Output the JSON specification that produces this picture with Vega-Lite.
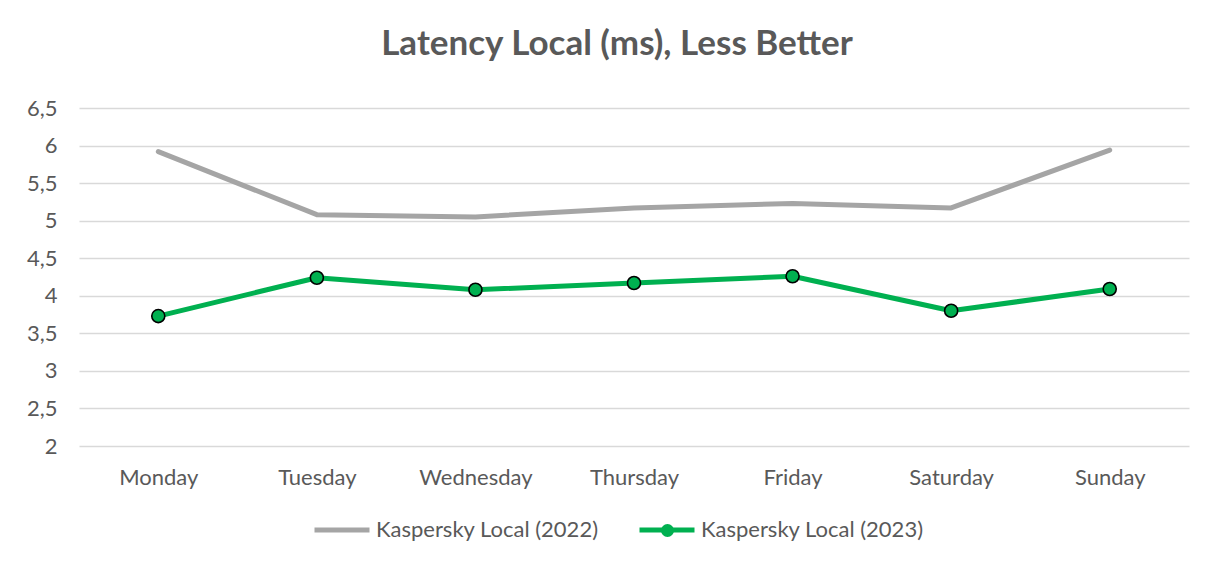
{
  "$schema": "https://vega.github.io/schema/vega-lite/v6.json",
  "width": 1110,
  "height": 338,
  "autosize": {"type": "none"},
  "padding": {"left": 79, "top": 108, "right": 25, "bottom": 116},
  "background": "white",
  "title": {
    "text": "Latency Local (ms), Less Better",
    "font": "Lato",
    "fontSize": 35,
    "fontWeight": "bold",
    "color": "#595959",
    "frame": "group",
    "anchor": "middle",
    "baseline": "alphabetic",
    "offset": 7,
    "dx": -17
  },
  "config": {
    "view": {"stroke": null},
    "font": "Lato"
  },
  "data": {
    "values": [
      {"day": "Monday", "series": "Kaspersky Local (2022)", "value": 5.92},
      {"day": "Tuesday", "series": "Kaspersky Local (2022)", "value": 5.08},
      {"day": "Wednesday", "series": "Kaspersky Local (2022)", "value": 5.05},
      {"day": "Thursday", "series": "Kaspersky Local (2022)", "value": 5.17},
      {"day": "Friday", "series": "Kaspersky Local (2022)", "value": 5.23},
      {"day": "Saturday", "series": "Kaspersky Local (2022)", "value": 5.17},
      {"day": "Sunday", "series": "Kaspersky Local (2022)", "value": 5.94},
      {"day": "Monday", "series": "Kaspersky Local (2023)", "value": 3.73},
      {"day": "Tuesday", "series": "Kaspersky Local (2023)", "value": 4.24},
      {"day": "Wednesday", "series": "Kaspersky Local (2023)", "value": 4.08},
      {"day": "Thursday", "series": "Kaspersky Local (2023)", "value": 4.17},
      {"day": "Friday", "series": "Kaspersky Local (2023)", "value": 4.26},
      {"day": "Saturday", "series": "Kaspersky Local (2023)", "value": 3.80},
      {"day": "Sunday", "series": "Kaspersky Local (2023)", "value": 4.09}
    ]
  },
  "encoding": {
    "x": {
      "field": "day",
      "type": "nominal",
      "sort": ["Monday", "Tuesday", "Wednesday", "Thursday", "Friday", "Saturday", "Sunday"],
      "scale": {"type": "point", "padding": 0.5},
      "axis": {
        "title": null,
        "domain": false,
        "ticks": false,
        "grid": false,
        "labelAngle": 0,
        "labelFont": "Lato",
        "labelFontSize": 22,
        "labelColor": "#595959",
        "labelPadding": 21
      }
    },
    "y": {
      "field": "value",
      "type": "quantitative",
      "scale": {"domain": [2, 6.5], "nice": false, "zero": false},
      "axis": {
        "title": null,
        "domain": false,
        "ticks": false,
        "values": [2, 2.5, 3, 3.5, 4, 4.5, 5, 5.5, 6, 6.5],
        "labelExpr": "replace(format(datum.value, '~g'), '.', ',')",
        "gridColor": "#d9d9d9",
        "gridWidth": 1.5,
        "labelFont": "Lato",
        "labelFontSize": 22,
        "labelColor": "#595959",
        "labelPadding": 22
      }
    }
  },
  "layer": [
    {
      "mark": {"type": "line", "strokeWidth": 5, "strokeCap": "round", "strokeJoin": "round"},
      "encoding": {
        "color": {
          "field": "series",
          "type": "nominal",
          "scale": {"domain": ["Kaspersky Local (2022)", "Kaspersky Local (2023)"], "range": ["#a5a5a5", "#00b050"]},
          "legend": {
            "title": null,
            "orient": "none",
            "direction": "horizontal",
            "legendX": 233,
            "legendY": 392,
            "padding": 0,
            "symbolType": "stroke",
            "symbolStrokeWidth": 5,
            "symbolSize": 3025,
            "labelFont": "Lato",
            "labelFontSize": 22,
            "labelColor": "#595959",
            "labelOffset": 4,
            "columnPadding": 30,
            "labelLimit": 400
          }
        }
      }
    },
    {
      "transform": [{"filter": "datum.series === 'Kaspersky Local (2023)'"}],
      "mark": {"type": "point", "shape": "circle", "filled": true, "fill": "#00b050", "stroke": "#000000", "strokeWidth": 1.6, "size": 170, "opacity": 1},
      "encoding": {
        "shape": {
          "field": "series",
          "type": "nominal",
          "scale": {"range": ["circle"]},
          "legend": {
            "title": null,
            "orient": "none",
            "legendX": 581,
            "legendY": 415,
            "padding": 0,
            "symbolSize": 170,
            "symbolFillColor": "#00b050",
            "symbolStrokeColor": "#000000",
            "symbolStrokeWidth": 1.6,
            "symbolOpacity": 1,
            "labelExpr": "''",
            "labelOffset": 0,
            "encode": {
              "symbols": {
                "update": {
                  "fill": {"value": "#00b050"},
                  "stroke": {"value": "#000000"},
                  "strokeWidth": {"value": 1.6},
                  "opacity": {"value": 1}
                }
              }
            }
          }
        }
      }
    }
  ]
}
